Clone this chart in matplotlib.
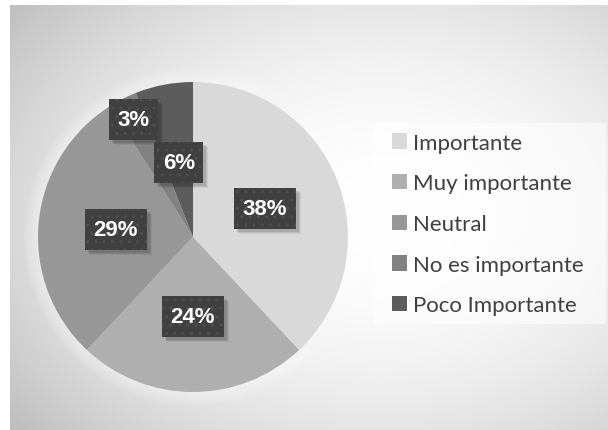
import numpy as np
import matplotlib
matplotlib.use("Agg")
import matplotlib.pyplot as plt
from matplotlib.patches import Circle, Rectangle

categories = ["Importante", "Muy importante", "Neutral", "No es importante", "Poco Importante"]
values = [38, 24, 29, 3, 6]
labels = ["38%", "24%", "29%", "3%", "6%"]
colors = ["#d9d9d9", "#afafaf", "#979797", "#818181", "#5c5c5c"]
label_dist = [0.50, 0.51, 0.50, 0.85, 0.49]

W, H = 608, 431
fig = plt.figure(figsize=(W / 100, H / 100), dpi=100)
fig.patch.set_facecolor("white")

# background gradient axes (chart area)
bx0, by_top = 10, 6
bg = fig.add_axes([bx0 / W, 0, (W - bx0) / W, (H - by_top) / H])
bg.set_axis_off()
yy, xx = np.mgrid[by_top:H, bx0:W]
cx, cy, rx, ry = 380, 215, 420, 300
d = np.sqrt(((xx - cx) / rx) ** 2 + ((yy - cy) / ry) ** 2)
d = np.minimum(d, 1.2)
val = 1 - 0.2 * d ** 2
img = np.dstack([val, val, val])
bg.imshow(img, aspect="auto", extent=[0, 1, 0, 1], interpolation="bilinear")
bg.set_xlim(0, 1)
bg.set_ylim(0, 1)

# legend background box
fig.patches.append(Rectangle((374 / W, 1 - 325 / H), (606 - 374) / W, (325 - 124) / H,
                             transform=fig.transFigure, facecolor="white", alpha=0.55,
                             edgecolor="none", zorder=1))

# pie axes
pcx, pcy, R = 193, 238, 155
ax = fig.add_axes([(pcx - R) / W, (H - pcy - R) / H, 2 * R / W, 2 * R / H])
ax.set_axis_off()
for r in np.linspace(1.09, 1.01, 6):
    ax.add_patch(Circle((0, 0), r, facecolor="white", alpha=0.09, edgecolor="none",
                        zorder=0, clip_on=False))
wedges, _ = ax.pie(values, colors=colors, startangle=90, counterclock=False,
                   radius=1, wedgeprops=dict(linewidth=0))
ax.set_xlim(-1, 1)
ax.set_ylim(-1, 1)

lab_font = dict(fontsize=16, fontweight="bold", family=["Liberation Sans", "DejaVu Sans"])
texts = []
for w, lab, dist in zip(wedges, labels, label_dist):
    ang = np.deg2rad((w.theta1 + w.theta2) / 2)
    x, y = dist * np.cos(ang), dist * np.sin(ang)
    t = ax.text(x, y, lab, ha="center", va="center", color="white", zorder=6, **lab_font)
    texts.append(t)

leg = fig.legend(wedges, categories, loc="center left",
                 bbox_to_anchor=(392 / W, 1 - 225 / H), bbox_transform=fig.transFigure,
                 frameon=False, prop=dict(family="Lato", size=16),
                 handlelength=0.68, handleheight=0.68, handletextpad=0.28,
                 labelspacing=0.93, borderpad=0, borderaxespad=0)
for txt in leg.get_texts():
    txt.set_color("#404040")

fig.canvas.draw()
renderer = fig.canvas.get_renderer()
for t in texts:
    bb = t.get_window_extent(renderer)
    tx, ty = ax.transData.transform(t.get_position())
    bw = bb.width + 17
    bh = 41
    for off, a in [(5, 0.06), (4, 0.08), (3, 0.10)]:
        fig.patches.append(Rectangle((tx - bw / 2 + off, ty - bh / 2 - off), bw, bh,
                                     transform=None, facecolor="black", alpha=a,
                                     edgecolor="none", zorder=4))
    fig.patches.append(Rectangle((tx - bw / 2, ty - bh / 2), bw, bh, transform=None,
                                 facecolor="#404040", edgecolor="#4f4f4f", linewidth=0,
                                 hatch="..", zorder=5))

for t in texts:
    t.remove()
    pos = fig.transFigure.inverted().transform(ax.transData.transform(t.get_position()))
    fig.text(pos[0], pos[1], t.get_text(), ha="center", va="center", color="white",
             zorder=6, **lab_font)

fig.savefig("out.png", dpi=100, facecolor=fig.get_facecolor())
